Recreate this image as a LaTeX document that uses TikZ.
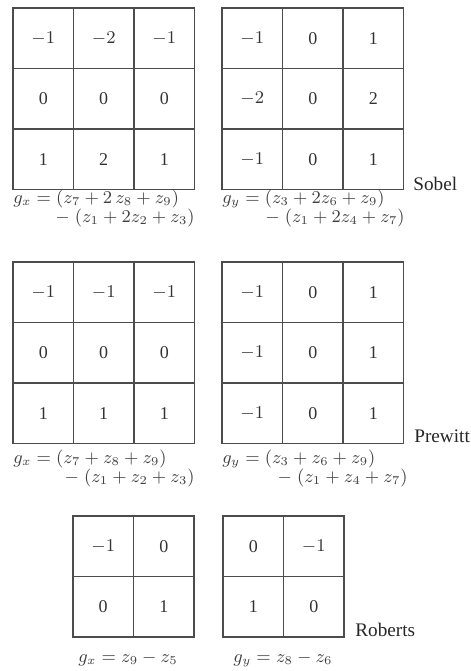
\documentclass[tikz,border=0pt]{standalone}
\usepackage{fontspec}
\setmainfont{Liberation Serif}
\usetikzlibrary{positioning}

\begin{document}
\begin{tikzpicture}[
    x=0.5pt, y=-0.5pt,
    cell/.style={draw=black!70, line width=0.8pt, minimum width=30.25pt,
        minimum height=30.25pt, inner sep=0pt, text=black!80,
        font=\fontsize{9}{10}\selectfont},
    formula/.style={inner sep=0pt, text=black!75, font=\fontsize{9}{10}\selectfont},
    opname/.style={anchor=base west, inner sep=0pt, text=black!85,
        font=\fontsize{9.6}{11}\selectfont}
]
\useasboundingbox (0,0) rectangle (471,671);

% Sobel
\foreach \v [count=\k from 0] in {$-1$,$-2$,$-1$,0,0,0,1,2,1}
  \node[cell] (sx\k) at ({13+60.5*(mod(\k,3)+0.5)}, {8+60.5*(int(\k/3)+0.5)}) {\v};
\foreach \v [count=\k from 0] in {$-1$,0,1,$-2$,0,2,$-1$,0,1}
  \node[cell] (sy\k) at ({222+60.5*(mod(\k,3)+0.5)}, {8+60.5*(int(\k/3)+0.5)}) {\v};
\node[formula, anchor=base west] (sxf1) at (13,203) {$g_x = (z_7 + 2\,z_8 + z_9)$};
\node[formula, anchor=base east] (sxf2) at (195,222.5) {$-\;(z_1 + 2z_2 + z_3)$};
\node[formula, anchor=base west] (syf1) at (222,203) {$g_y = (z_3 + 2z_6 + z_9)$};
\node[formula, anchor=base east] (syf2) at (405,222.5) {$-\;(z_1 + 2z_4 + z_7)$};
\node[opname] (sobel) at (413,190) {Sobel};

% Prewitt
\foreach \v [count=\k from 0] in {$-1$,$-1$,$-1$,0,0,0,1,1,1}
  \node[cell] (px\k) at ({13+60.5*(mod(\k,3)+0.5)}, {262+60.5*(int(\k/3)+0.5)}) {\v};
\foreach \v [count=\k from 0] in {$-1$,0,1,$-1$,0,1,$-1$,0,1}
  \node[cell] (py\k) at ({222+60.5*(mod(\k,3)+0.5)}, {262+60.5*(int(\k/3)+0.5)}) {\v};
\node[formula, anchor=base west] (pxf1) at (13,463) {$g_x = (z_7 + z_8 + z_9)$};
\node[formula, anchor=base east] (pxf2) at (195,482.5) {$-\;(z_1 + z_2 + z_3)$};
\node[formula, anchor=base west] (pyf1) at (222,463) {$g_y = (z_3 + z_6 + z_9)$};
\node[formula, anchor=base east] (pyf2) at (408,482.5) {$-\;(z_1 + z_4 + z_7)$};
\node[opname] (prewitt) at (414,442) {Prewitt};

% Roberts
\foreach \v [count=\k from 0] in {$-1$,0,0,1}
  \node[cell] (rx\k) at ({73+60.5*(mod(\k,2)+0.5)}, {516+60.5*(int(\k/2)+0.5)}) {\v};
\foreach \v [count=\k from 0] in {0,$-1$,1,0}
  \node[cell] (ry\k) at ({223+60.5*(mod(\k,2)+0.5)}, {516+60.5*(int(\k/2)+0.5)}) {\v};
\node[formula, anchor=base] (rxf) at (128,662) {$g_x = z_9 - z_5$};
\node[formula, anchor=base] (ryf) at (283,662) {$g_y = z_8 - z_6$};
\node[opname] (roberts) at (355,636) {Roberts};
\end{tikzpicture}
\end{document}
